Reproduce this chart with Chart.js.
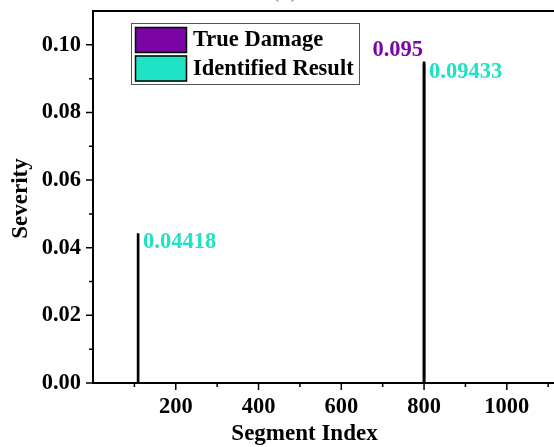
<!DOCTYPE html>
<html>
<head>
<meta charset="utf-8">
<script src="https://cdn.jsdelivr.net/npm/chart.js@4.4.1/dist/chart.umd.min.js"></script>
<style>
  html, body { margin: 0; padding: 0; background: #ffffff; overflow: hidden; }
  canvas { display: block; }
</style>
</head>
<body>
<canvas id="chart" width="554" height="447"></canvas>
<script>
// Damage severity per segment
const seriesNames = ['True Damage', 'Identified Result'];
const seriesColors = ['#7a05a4', '#1de2c3'];
const trueSegments = [800];
const trueSeverity = [0.095];
const identifiedSegments = [109, 800];
const identifiedSeverity = [0.04418, 0.09433];

// Axis ticks
const xTicks = [200, 400, 600, 800, 1000];
const xMinorTicks = [100, 300, 500, 700, 900, 1100];
const yTicks = [0, 0.02, 0.04, 0.06, 0.08, 0.10];
const yMinorTicks = [0.01, 0.03, 0.05, 0.07, 0.09];

const FONT = 'Liberation Serif, Times New Roman, serif';

const toPoints = (xs, ys) => xs.map((x, i) => ({ x: x, y: ys[i] }));

// Tick marks, frame, legend, axis titles and value labels
const decorations = {
  id: 'decorations',
  afterDraw(chart) {
    const ctx = chart.ctx;
    const area = chart.chartArea;
    const xs = chart.scales.x;
    const ys = chart.scales.y;
    ctx.save();

    // top frame line
    ctx.strokeStyle = '#000';
    ctx.lineWidth = 2;
    ctx.beginPath();
    ctx.moveTo(area.left - 1, area.top);
    ctx.lineTo(area.right, area.top);
    ctx.stroke();

    // tick marks (outward)
    ctx.lineWidth = 1.5;
    ctx.beginPath();
    xTicks.forEach(v => { const p = xs.getPixelForValue(v); ctx.moveTo(p, area.bottom); ctx.lineTo(p, area.bottom + 7); });
    xMinorTicks.forEach(v => { const p = xs.getPixelForValue(v); ctx.moveTo(p, area.bottom); ctx.lineTo(p, area.bottom + 4); });
    yTicks.forEach(v => { const p = ys.getPixelForValue(v); ctx.moveTo(area.left, p); ctx.lineTo(area.left - 7, p); });
    yMinorTicks.forEach(v => { const p = ys.getPixelForValue(v); ctx.moveTo(area.left, p); ctx.lineTo(area.left - 4, p); });
    ctx.stroke();

    // value labels
    ctx.font = 'bold 22.5px ' + FONT;
    ctx.textBaseline = 'alphabetic';
    chart.data.datasets.forEach((ds, di) => {
      const meta = chart.getDatasetMeta(di);
      ds.data.forEach((pt, i) => {
        const el = meta.data[i];
        ctx.fillStyle = ds.labelColor;
        if (di === 0) {
          ctx.textAlign = 'right';
          ctx.fillText(String(pt.y), el.x - 1, el.y - 6);
        } else {
          ctx.textAlign = 'left';
          ctx.fillText(String(pt.y), el.x + 5, el.y + 14);
        }
      });
    });

    // legend
    ctx.lineWidth = 1;
    ctx.strokeStyle = '#555';
    ctx.strokeRect(131.5, 23.5, 228, 61);
    const rows = [27, 55.5];
    chart.data.datasets.forEach((ds, di) => {
      const y0 = rows[di];
      ctx.fillStyle = ds.labelColor;
      ctx.fillRect(135, y0, 52, 26);
      ctx.strokeStyle = '#000';
      ctx.lineWidth = 1.5;
      ctx.strokeRect(135.5, y0 + 0.5, 51, 25);
      ctx.fillStyle = '#000';
      ctx.textAlign = 'left';
      ctx.textBaseline = 'middle';
      ctx.font = 'bold 22.5px ' + FONT;
      ctx.fillText(ds.label, 193, y0 + 13.5);
    });

    // axis titles
    ctx.fillStyle = '#000';
    ctx.font = 'bold 23px ' + FONT;
    ctx.textAlign = 'center';
    ctx.textBaseline = 'alphabetic';
    ctx.fillText('Segment Index', 304.5, 440);
    ctx.save();
    ctx.translate(27, 198.5);
    ctx.rotate(-Math.PI / 2);
    ctx.fillText('Severity', 0, 0);
    ctx.restore();

    // panel tag at the top edge
    ctx.fillStyle = '#888';
    ctx.fillText('(a)', 285, -3);

    ctx.restore();
  }
};

new Chart(document.getElementById('chart'), {
  type: 'bar',
  data: {
    datasets: [
      {
        label: seriesNames[0],
        data: toPoints(trueSegments, trueSeverity),
        labelColor: seriesColors[0],
        backgroundColor: '#000',
        barThickness: 2,
        grouped: false
      },
      {
        label: seriesNames[1],
        data: toPoints(identifiedSegments, identifiedSeverity),
        labelColor: seriesColors[1],
        backgroundColor: '#000',
        barThickness: 2,
        grouped: false
      }
    ]
  },
  options: {
    responsive: false,
    animation: false,
    layout: { padding: { top: 11, right: 0, bottom: 0, left: 0 } },
    plugins: { legend: { display: false }, tooltip: { enabled: false } },
    scales: {
      x: {
        type: 'linear',
        offset: false,
        min: 0,
        max: 1114,
        grid: { display: false, drawTicks: false, offset: false },
        border: { display: true, color: '#000', width: 2 },
        afterBuildTicks: s => { s.ticks = xTicks.map(v => ({ value: v })); },
        afterFit: s => { s.height = 64; s.paddingLeft = 0; s.paddingRight = 0; },
        ticks: {
          padding: 11,
          color: '#000',
          maxRotation: 0,
          font: { family: FONT, weight: 'bold', size: 22.5 },
          callback: v => String(v)
        }
      },
      y: {
        min: 0,
        max: 0.11,
        grid: { display: false, drawTicks: false },
        border: { display: true, color: '#000', width: 2 },
        afterBuildTicks: s => { s.ticks = yTicks.map(v => ({ value: v })); },
        afterFit: s => { s.width = 93; s.paddingTop = 0; s.paddingBottom = 0; },
        ticks: {
          padding: 12,
          color: '#000',
          font: { family: FONT, weight: 'bold', size: 22.5 },
          callback: v => v.toFixed(2)
        }
      }
    }
  },
  plugins: [decorations]
});
</script>
</body>
</html>
